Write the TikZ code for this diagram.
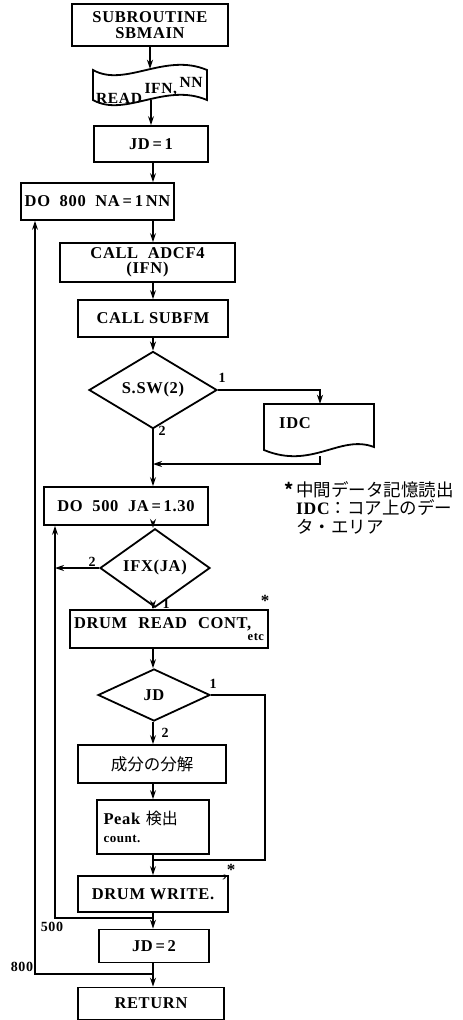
\documentclass[tikz,border=0pt]{standalone}
\usepackage{fontspec}
\setmainfont{Liberation Serif}[LetterSpace=4]
\newfontfamily\jp{Noto Sans CJK JP}
\usetikzlibrary{shapes.geometric,arrows.meta}
\newcommand\myfs{\fontsize{16.5}{17}\selectfont\bfseries}
\newcommand\mylab{\fontsize{14}{14}\selectfont\bfseries}
\begin{document}
\begin{tikzpicture}[x=1pt,y=-1pt,
  bx/.style={draw, line width=1.8pt, inner sep=0pt, align=center, font=\myfs},
  dm/.style={diamond, draw, line width=1.8pt, inner sep=0pt, font=\myfs},
  ln/.style={line width=1.3pt},
  ar/.style={ln, -{Stealth[length=9pt,width=6pt]}},
  lab/.style={font=\mylab, inner sep=0pt},
  ghost/.style={inner sep=0pt}]
\useasboundingbox (0,0) rectangle (463,1020);
\coordinate (mx) at (153,0);
% boxes
\node[bx, minimum width=156pt, minimum height=42pt] (sub) at (150,25) {SUBROUTINE\\[-1pt]SBMAIN};
\draw[line width=1.8pt] (93,70) .. controls (125,88) and (165,52) .. (207,70) -- (207,100)
   .. controls (165,82) and (125,118) .. (93,100) -- cycle;
\node[ghost, minimum width=114pt, minimum height=31pt] (read) at (150,84.5) {};
\node[ghost, font=\fontsize{15.5}{15}\selectfont\bfseries, anchor=base west] (readtxt) at (96,103)
   {READ\,\raisebox{10pt}{IFN,\,\raisebox{6pt}{NN}}};
\node[bx, minimum width=114pt, minimum height=36pt] (jd1) at (151,144) {JD\,=\,1};
\node[bx, minimum width=153pt, minimum height=37pt] (do800) at (97.5,201.5) {DO\ \ 800\ \ NA\,=\,1\,NN};
\node[bx, minimum width=175pt, minimum height=39pt] (adcf) at (147.5,262.5) {CALL\ \ ADCF4\\[-2pt](IFN)};
\node[bx, minimum width=150pt, minimum height=37pt] (subfm) at (153,318.5) {CALL\ SUBFM};
\node[dm, minimum width=128pt, minimum height=60pt] (ssw) at (153,390) {S.SW(2)};
\draw[line width=1.8pt] (264,404) -- (374,404) -- (374,447)
   .. controls (340,434) and (312,470) .. (264,450) -- cycle;
\node[ghost, minimum width=110pt, minimum height=52pt] (idc) at (320,430) {};
\node[ghost, font=\myfs, anchor=west] (idctxt) at (279,423) {IDC};
\node[bx, minimum width=164pt, minimum height=38pt] (do500) at (126,506) {DO\ \ 500\ \ JA\,=\,1.30};
\node[dm, minimum width=110pt, minimum height=53pt] (ifx) at (155,568) {IFX(JA)};
\node[bx, minimum width=198pt, minimum height=38pt, text width=190pt, align=left] (drumr) at (169,629)
   {DRUM\ \ READ\ \ CONT,\\[-5pt]\hspace*{0pt plus 1filll}{\fontsize{12.5}{12}\selectfont etc}};
\node[dm, minimum width=112pt, minimum height=52pt] (jd) at (154,695) {JD};
\node[bx, minimum width=148pt, minimum height=38pt, font=\jp\fontsize{16.5}{17}\selectfont] (bunkai) at (152,764) {成分の分解};
\node[bx, minimum width=112pt, minimum height=54pt, text width=99pt, align=left] (peak) at (153,827)
   {Peak\ {\jp\fontsize{16}{16}\selectfont\mdseries 検出}\\[1pt]{\fontsize{13}{13}\selectfont count.}};
\node[bx, minimum width=150pt, minimum height=36pt] (drumw) at (153,894) {DRUM\ WRITE.};
\node[bx, minimum width=110pt, minimum height=33pt] (jd2) at (154,946) {JD\,=\,2};
\node[bx, minimum width=146pt, minimum height=32pt] (ret) at (151,1003.5) {RETURN};
% note
\node[ghost, anchor=north west, align=left, font=\jp\fontsize{17.5}{18.5}\selectfont] (note) at (296,481)
   {\llap{\bfseries *\,}中間データ記憶読出\\{\rmfamily\bfseries IDC}：コア上のデー\\タ・エリア};
% labels
\node[lab] (l1a) at (222,378) {1};
\node[lab] (l2a) at (162,431) {2};
\node[lab] (l2b) at (92,562) {2};
\node[lab] (l1b) at (166,604) {1};
\node[lab, font=\fontsize{17}{17}\selectfont\bfseries] (st1) at (265,601) {*};
\node[lab] (l1c) at (213,684) {1};
\node[lab] (l2c) at (165,733) {2};
\node[lab, font=\fontsize{17}{17}\selectfont\bfseries] (st2) at (229,872) {,\raisebox{2pt}{*}};
\node[lab] (l500) at (52,927) {500};
\node[lab] (l800) at (22,967) {800};
% connectors
\draw[ar] (sub.south -| read) -- (read.north);
\draw[ar] (read.south -| jd1) -- (jd1.north);
\draw[ar] (jd1.south -| mx) -- (do800.north -| mx);
\draw[ar] (do800.south -| mx) -- (adcf.north -| mx);
\draw[ar] (adcf.south -| mx) -- (subfm.north -| mx);
\draw[ar] (subfm.south -| mx) -- (ssw.north);
\draw[ar] (ssw.east) -| (idc.north);
\draw[ar] (ssw.south) -- (do500.north -| mx);
\coordinate (jr) at (0,464);
\draw[ar] (idc.south) -- (idc.south |- jr) -- (mx |- jr);
\draw[ar] (do500.south -| mx) -- (ifx.north -| mx);
\coordinate (l500x) at (55,0);
\draw[ar] (ifx.west) -- (l500x |- ifx.west);
\draw[ar] (ifx.south -| mx) -- (drumr.north -| mx);
\draw[ar] (drumr.south -| mx) -- (jd.north -| mx);
\draw[ar] (jd.south -| mx) -- (bunkai.north -| mx);
\draw[ar] (bunkai.south -| mx) -- (peak.north -| mx);
\coordinate (j860) at (0,860);
\coordinate (jdr) at (265,0);
\draw[ln] (jd.east) -- (jdr |- jd.east) -- (jdr |- j860) -- (mx |- j860);
\draw[ar] (peak.south -| mx) -- (drumw.north -| mx);
\draw[ar] (drumw.south -| mx) -- (jd2.north -| mx);
\coordinate (j918) at (0,918);
\draw[ar] (mx |- j918) -- (l500x |- j918) -- (l500x |- do500.south);
\coordinate (j974) at (0,974);
\coordinate (l800x) at (35,0);
\draw[ar] (jd2.south -| mx) -- (ret.north -| mx);
\draw[ar] (mx |- j974) -- (l800x |- j974) -- (l800x |- do800.south);
\end{tikzpicture}
\end{document}
